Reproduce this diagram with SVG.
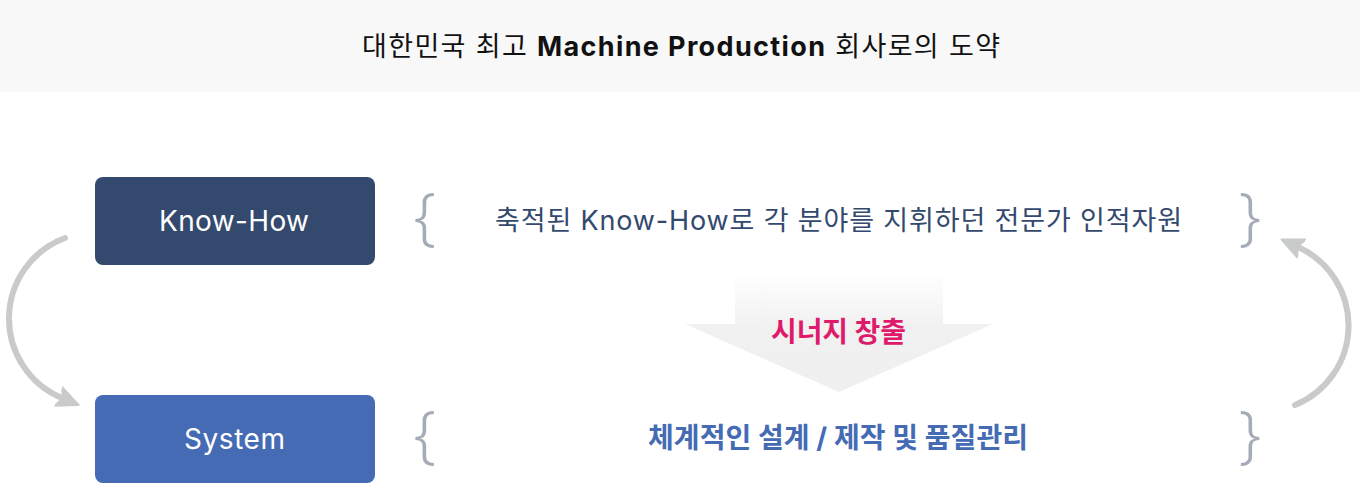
<svg xmlns="http://www.w3.org/2000/svg" width="1360" height="483" viewBox="0 0 1360 483">
<style>
text{font-family:"Inter","Noto Sans CJK KR",sans-serif;text-anchor:middle}
.hdr{font-size:27px;fill:#111}
.box{font-size:28px;fill:#fff}
.brace{font-family:"Noto Sans","DejaVu Sans",sans-serif;font-size:62px;font-weight:300;fill:#a6acb7}
.curve{fill:none;stroke:#c9cbca;stroke-width:6;stroke-linecap:round}
</style>
<defs>
<linearGradient id="ag" x1="0" y1="0" x2="0" y2="1">
<stop offset="0" stop-color="#ffffff"/>
<stop offset="0.45" stop-color="#f1f1f1"/>
<stop offset="1" stop-color="#efefef"/>
</linearGradient>
<marker id="ah" markerUnits="userSpaceOnUse" markerWidth="24" markerHeight="24" refX="4" refY="12" viewBox="0 0 24 24" orient="auto">
<path d="M0,2 L22,12 L0,22 L5,12 Z" fill="#c9cbca" stroke="#c9cbca" stroke-width="2" stroke-linejoin="round"/>
</marker>
</defs>
<rect x="0" y="0" width="1360" height="92" fill="#f8f8f8"/>
<text class="hdr" x="681" y="56" textLength="638" lengthAdjust="spacing">대한민국 최고 <tspan font-weight="bold">Machine Production</tspan> 회사로의 도약</text>
<g id="knowhow">
<rect x="95" y="177" width="280" height="88" rx="8" fill="#34496e"/>
<text class="box" x="234" y="231" textLength="150" lengthAdjust="spacing">Know-How</text>
</g>
<g id="system">
<rect x="95" y="395" width="280" height="88" rx="8" fill="#456bb5"/>
<text class="box" x="234.5" y="449" textLength="101" lengthAdjust="spacing">System</text>
</g>
<g id="knowhow-desc">
<text class="brace" x="425" y="238">{</text>
<text x="838.5" y="230" font-size="27" fill="#34496e" textLength="687" lengthAdjust="spacing">축적된 Know-How로 각 분야를 지휘하던 전문가 인적자원</text>
<text class="brace" x="1250" y="238">}</text>
</g>
<g id="system-desc">
<text class="brace" x="425" y="456">{</text>
<text x="838" y="448" font-size="28" font-weight="bold" fill="#456bb5" textLength="380" lengthAdjust="spacing">체계적인 설계 / 제작 및 품질관리</text>
<text class="brace" x="1250" y="456">}</text>
</g>
<g id="synergy">
<path d="M735,272 H943 V324 H993 L839,392 L685,324 H735 Z" fill="url(#ag)"/>
<text x="838.5" y="342" font-size="28" font-weight="bold" fill="#e01a6b" textLength="135" lengthAdjust="spacing">시너지 창출</text>
</g>
<g id="connectors">
<path class="curve" d="M65,238 A86,86 0 0 0 62,398" marker-end="url(#ah)"/>
<path class="curve" d="M1295,405 A86,86 0 0 0 1298,247" marker-end="url(#ah)"/>
</g>
</svg>
